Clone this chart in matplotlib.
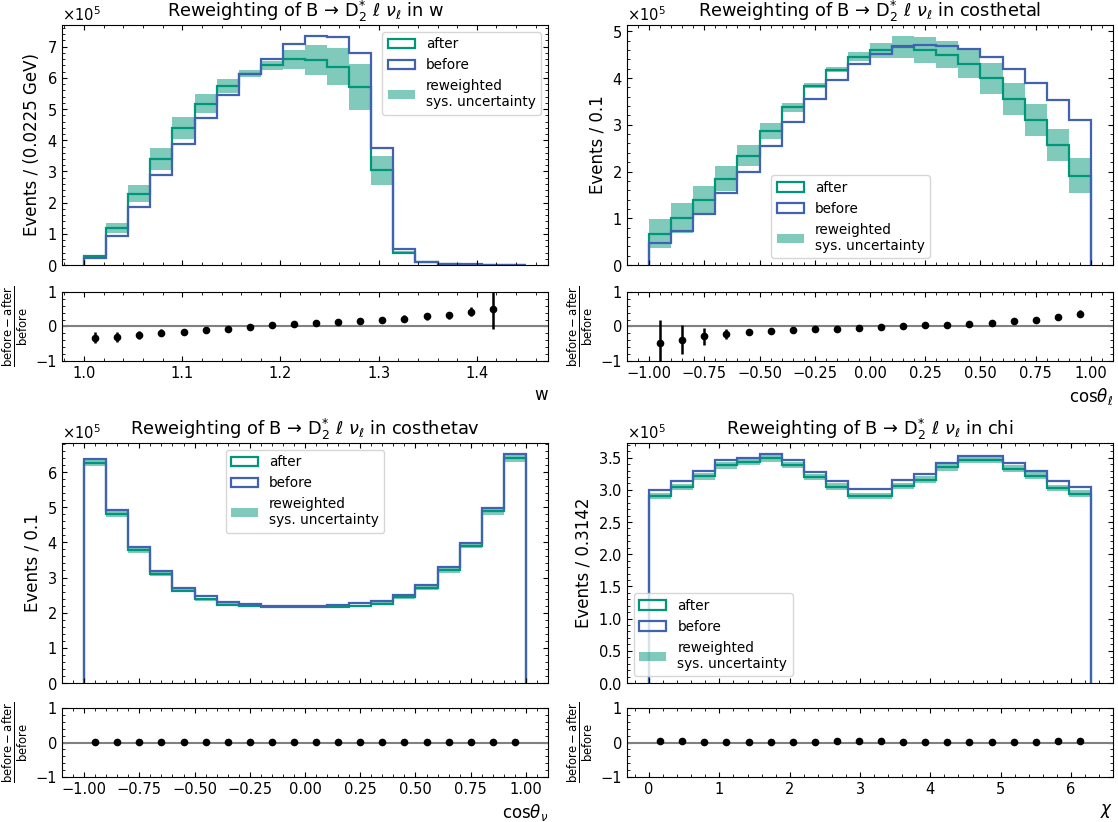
import numpy as np
import matplotlib
matplotlib.use('Agg')
import matplotlib.pyplot as plt
from matplotlib.patches import Patch

# bin edges
w_edges = np.linspace(1.0, 1.45, 21)
cos_edges = np.linspace(-1.0, 1.0, 21)
chi_edges = np.linspace(0.0, 2 * np.pi, 21)

# w (units of 1e5)
w_before = [0.21, 0.94, 1.85, 2.88, 3.87, 4.73, 5.46, 6.12, 6.61, 7.08, 7.33, 7.31,
            6.79, 3.74, 0.50, 0.11, 0.03, 0.02, 0.01, 0.0]
w_after = [0.28, 1.19, 2.29, 3.39, 4.40, 5.17, 5.74, 6.14, 6.40, 6.60, 6.57, 6.36,
           5.71, 3.04, 0.40, 0.09, 0.02, 0.012, 0.006, 0.0]
w_unc = [0.04, 0.15, 0.26, 0.35, 0.36, 0.31, 0.22, 0.10, 0.15, 0.31, 0.48, 0.60,
         0.74, 0.46, 0.06, 0.02, 0.005, 0.003, 0.002, 0.0]
w_ratio = [-0.33, -0.30, -0.25, -0.18, -0.15, -0.10, -0.06, -0.02, 0.03, 0.07,
           0.10, 0.13, 0.16, 0.19, 0.23, 0.29, 0.33, 0.43, 0.50]
w_ratio_err = [0.16, 0.14, 0.12, 0.10, 0.07, 0.04, 0.03, 0.02, 0.02, 0.03,
               0.03, 0.05, 0.06, 0.08, 0.09, 0.09, 0.10, 0.13, 0.56]

# costhetal
cl_before = [0.46, 0.73, 1.09, 1.53, 2.00, 2.54, 3.07, 3.56, 3.95, 4.31,
             4.51, 4.68, 4.71, 4.69, 4.62, 4.44, 4.19, 3.89, 3.53, 3.10]
cl_after = [0.67, 1.00, 1.39, 1.85, 2.34, 2.86, 3.37, 3.84, 4.18, 4.46,
            4.59, 4.66, 4.60, 4.50, 4.31, 3.99, 3.55, 3.10, 2.57, 1.91]
cl_unc = [0.31, 0.32, 0.30, 0.27, 0.22, 0.17, 0.10, 0.05, 0.05, 0.10,
          0.17, 0.23, 0.27, 0.29, 0.31, 0.34, 0.34, 0.35, 0.35, 0.37]
cl_ratio = [-0.47, -0.39, -0.28, -0.21, -0.16, -0.13, -0.10, -0.08, -0.06, -0.03,
            -0.02, 0.00, 0.03, 0.05, 0.08, 0.10, 0.15, 0.20, 0.27, 0.37]
cl_ratio_err = [0.65, 0.42, 0.25, 0.15, 0.07, 0.04, 0.03, 0.02, 0.02, 0.02,
                0.02, 0.02, 0.02, 0.02, 0.03, 0.04, 0.04, 0.05, 0.07, 0.10]

# costhetav
cv_before = [6.37, 4.92, 3.88, 3.19, 2.71, 2.46, 2.29, 2.25, 2.20, 2.19,
             2.20, 2.22, 2.27, 2.32, 2.51, 2.78, 3.29, 3.99, 4.99, 6.50]
cv_after = [6.27, 4.81, 3.78, 3.10, 2.63, 2.38, 2.23, 2.20, 2.17, 2.16,
            2.17, 2.17, 2.19, 2.26, 2.44, 2.70, 3.20, 3.91, 4.88, 6.39]
cv_unc = [0.11, 0.09, 0.07, 0.06, 0.05, 0.04, 0.04, 0.04, 0.04, 0.04,
          0.04, 0.04, 0.04, 0.04, 0.05, 0.05, 0.06, 0.07, 0.09, 0.11]
cv_ratio = [0.015, 0.018, 0.02, 0.022, 0.02, 0.02, 0.018, 0.016, 0.014, 0.012,
            0.012, 0.014, 0.016, 0.018, 0.02, 0.02, 0.02, 0.018, 0.018, 0.016]
cv_ratio_err = [0.01] * 20

# chi
chi_before = [2.99, 3.13, 3.30, 3.46, 3.49, 3.55, 3.47, 3.28, 3.14, 3.01,
              3.01, 3.15, 3.25, 3.42, 3.53, 3.53, 3.41, 3.30, 3.13, 3.04]
chi_after = [2.90, 3.04, 3.21, 3.38, 3.43, 3.49, 3.39, 3.20, 3.05, 2.90,
             2.90, 3.06, 3.16, 3.35, 3.46, 3.46, 3.33, 3.22, 3.03, 2.94]
chi_unc = [0.05, 0.05, 0.05, 0.05, 0.05, 0.05, 0.05, 0.05, 0.05, 0.05,
           0.05, 0.05, 0.05, 0.05, 0.05, 0.05, 0.05, 0.05, 0.05, 0.05]
chi_ratio = [0.03, 0.03, 0.025, 0.02, 0.02, 0.015, 0.02, 0.025, 0.03, 0.03,
             0.03, 0.025, 0.02, 0.015, 0.015, 0.015, 0.02, 0.025, 0.03, 0.035]
chi_ratio_err = [0.01] * 20

c_after = '#009679'
c_before = '#4062b0'

panels = [
    ('w', w_edges, w_before, w_after, w_unc, w_ratio, w_ratio_err,
     'Events / (0.0225 GeV)', 'w', 'upper right', None),
    ('costhetal', cos_edges, cl_before, cl_after, cl_unc, cl_ratio, cl_ratio_err,
     'Events / 0.1', r'$\mathrm{cos}\theta_\ell$', 'lower center', (0.46, 0.0)),
    ('costhetav', cos_edges, cv_before, cv_after, cv_unc, cv_ratio, cv_ratio_err,
     'Events / 0.1', r'$\mathrm{cos}\theta_\nu$', 'upper center', None),
    ('chi', chi_edges, chi_before, chi_after, chi_unc, chi_ratio, chi_ratio_err,
     'Events / 0.3142', r'$\chi$', 'lower left', None),
]

plt.rcParams['font.size'] = 10.5
plt.rcParams['xtick.direction'] = 'in'
plt.rcParams['ytick.direction'] = 'in'
plt.rcParams['xtick.top'] = True
plt.rcParams['ytick.right'] = True
plt.rcParams['xtick.minor.visible'] = True
plt.rcParams['ytick.minor.visible'] = True

fig = plt.figure(figsize=(11.18, 8.22), dpi=100)

# axes positions in pixels
W, H = 1118.0, 822.0
cols = [62, 627]
rows = [(25, 265, 292, 361), (443, 683, 708, 777)]
axw = 486

for i, (name, edges, before, after, unc, ratio, rerr, ylab, xlab, loc, anchor) in enumerate(panels):
    r, c = divmod(i, 2)
    mt, mb, rt, rb = rows[r]
    x0 = cols[c]
    ax = fig.add_axes([x0 / W, 1 - mb / H, axw / W, (mb - mt) / H])
    axr = fig.add_axes([x0 / W, 1 - rb / H, axw / W, (rb - rt) / H], sharex=ax)

    before = np.array(before) * 1e5
    after = np.array(after) * 1e5
    unc = np.array(unc) * 1e5

    ax.stairs(after + unc, edges, baseline=after - unc, fill=True,
              color=c_after, alpha=0.5, lw=0)
    ax.stairs(after, edges, color=c_after, lw=1.6)
    ax.stairs(before, edges, color=c_before, lw=1.6)
    ax.set_ylim(bottom=0)
    ax.set_ylabel(ylab, fontsize=12)
    ax.set_title('Reweighting of B \u2192 D$_2^{*}$ $\\ell$ $\\nu_\\ell$ in ' + name,
                 fontsize=12.8)
    ax.ticklabel_format(axis='y', style='sci', scilimits=(0, 0), useMathText=True)
    plt.setp(ax.get_xticklabels(), visible=False)

    handles = [Patch(facecolor='none', edgecolor=c_after, lw=1.6, label='after'),
               Patch(facecolor='none', edgecolor=c_before, lw=1.6, label='before'),
               Patch(facecolor=c_after, alpha=0.5, lw=0,
                     label='reweighted\nsys. uncertainty')]
    if anchor is None:
        ax.legend(handles=handles, loc=loc, fontsize=9.8)
    else:
        ax.legend(handles=handles, loc=loc, bbox_to_anchor=anchor, fontsize=9.8)

    centers = 0.5 * (edges[1:] + edges[:-1])
    n = len(ratio)
    axr.axhline(0, color='gray', lw=1.5)
    axr.errorbar(centers[:n], ratio, yerr=rerr, fmt='o', color='black',
                 ms=4.5, elinewidth=1.8, capsize=0)
    axr.set_ylim(-1, 1)
    axr.set_yticks([-1, 0, 1])
    axr.set_ylabel(r'$\frac{\mathrm{before - after}}{\mathrm{before}}$', fontsize=12)
    axr.set_xlabel(xlab, fontsize=12, loc='right')

fig.savefig('out.png', dpi=100)
